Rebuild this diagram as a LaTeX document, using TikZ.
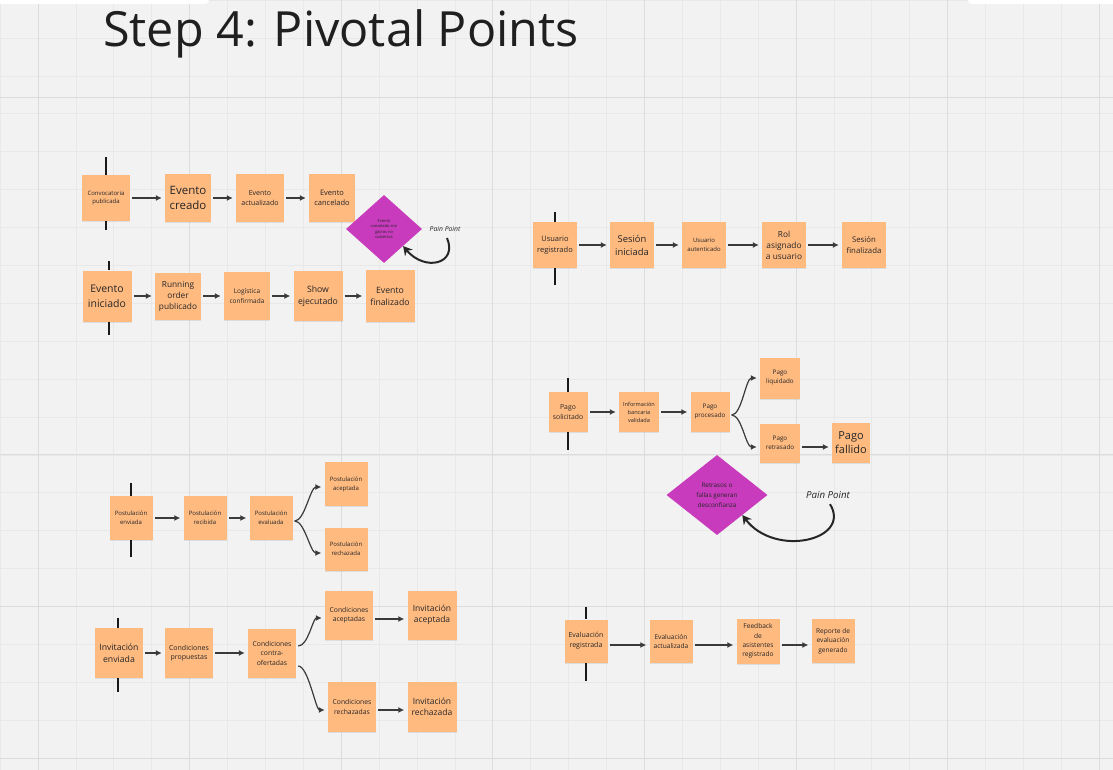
\documentclass[tikz,border=0pt]{standalone}
\usepackage{fontspec}
\setmainfont{Open Sans}
\usetikzlibrary{shapes.geometric,arrows.meta,shadows}
\definecolor{bgc}{HTML}{F2F2F2}
\definecolor{gridc}{HTML}{E8E8E8}
\definecolor{gridm}{HTML}{DCDCDC}
\definecolor{stk}{HTML}{FFBA80}
\definecolor{mag}{HTML}{C83BBD}
\definecolor{txt}{HTML}{262626}
\definecolor{arr}{HTML}{3A3A3A}
\newcommand{\fsz}[2]{\fontsize{#1}{#2}\selectfont}
\begin{document}
\begin{tikzpicture}[x=1pt,y=-1pt,
  note/.style 2 args={fill=stk, draw=none, minimum width=#1, minimum height=#2,
    inner sep=0.5pt, align=center, text=txt,
    drop shadow={shadow xshift=0pt, shadow yshift=-1.2pt, opacity=0.18}},
  pain/.style 2 args={diamond, fill=mag, draw=none, minimum width=#1, minimum height=#2,
    inner sep=0pt, align=center, text=txt},
  flow/.style={draw=arr, line width=1.2pt, -{Latex[length=6pt,width=6pt]},
    shorten <=2pt, shorten >=3pt},
  pivot/.style={draw=black!90, line width=2pt},
  painarrow/.style={draw=black!85, line width=2pt, -{Stealth[length=9pt,width=10pt,inset=3pt]}},
  plabel/.style={text=txt, font=\itshape}
]
\useasboundingbox (0,0) rectangle (1113,770);
\fill[bgc] (0,0) rectangle (1113,770);
% grid
\foreach \i in {0,...,29} { \draw[gridc, line width=0.5pt] ({\i*37.9},0) -- ({\i*37.9},770); }
\foreach \j in {0,...,20} { \draw[gridc, line width=0.5pt] (0,{\j*37.9}) -- (1113,{\j*37.9}); }
\foreach \i in {0,...,7} { \draw[gridm, line width=0.8pt] ({37.9+\i*151.6},0) -- ({37.9+\i*151.6},770); }
\foreach \yy in {97,454.8,606.4,758} { \draw[gridm, line width=0.8pt] (0,\yy) -- (1113,\yy); }
% top white bars
\fill[white, rounded corners=4pt] (-6,-10) rectangle (209,4);
\fill[white, rounded corners=4pt] (968,-10) rectangle (1120,4);
% title
\node[anchor=base west, text=black!88, font=\fsz{48.5}{55}, inner sep=0pt] (title) at (103,47) {Step 4: Pivotal Points};

% ---- Row A
\node[note={48}{46}, font=\fsz{6}{8}] (convo) at (106,198) {Convocatoria\\publicada};
\node[note={46}{48}, font=\fsz{11.5}{15.5}] (ecreado) at (188,198) {Evento\\creado};
\node[note={48}{48}, font=\fsz{7}{9.5}] (eactual) at (260,198) {Evento\\actualizado};
\node[note={46}{48}, font=\fsz{7.5}{10}] (ecancel) at (332,198) {Evento\\cancelado};
\node[pain={76}{68}, font=\fsz{4}{5.5}] (d1) at (384,229) {Evento\\cancelado con\\gastos no\\cubiertos};
\node[plabel, font=\itshape\fsz{6.8}{8}] (pp1) at (445,229) {Pain Point};
\draw[flow] (convo) -- (ecreado);
\draw[flow] (ecreado) -- (eactual);
\draw[flow] (eactual) -- (ecancel);
\draw[painarrow] ([xshift=2pt,yshift=-3pt]pp1.south) .. controls (458,264) and (425,272) .. (d1.south east);

% ---- Row B
\node[note={49}{51}, font=\fsz{10.5}{15}] (einic) at (107,296) {Evento\\iniciado};
\node[note={46}{47}, font=\fsz{8.3}{11}] (running) at (178,296) {Running\\order\\publicado};
\node[note={46}{48}, font=\fsz{6.5}{10}] (logis) at (247,296) {Logística\\confirmada};
\node[note={49}{50}, font=\fsz{8.7}{12}] (show) at (318,296) {Show\\ejecutado};
\node[note={49}{52}, font=\fsz{8.7}{12}] (efinal) at (390,296) {Evento\\finalizado};
\draw[flow] (einic) -- (running);
\draw[flow] (running) -- (logis);
\draw[flow] (logis) -- (show);
\draw[flow] (show) -- (efinal);

% ---- Usuario
\node[note={44}{46}, font=\fsz{7.5}{11}] (ureg) at (555,245) {Usuario\\registrado};
\node[note={44}{46}, font=\fsz{9.4}{13}] (sinic) at (632,245) {Sesión\\iniciada};
\node[note={44}{46}, font=\fsz{6}{9}] (uaut) at (704,245) {Usuario\\autenticado};
\node[note={44}{46}, font=\fsz{8.3}{11}] (rol) at (784,245) {Rol\\asignado\\a usuario};
\node[note={44}{46}, font=\fsz{7.8}{11}] (sfin) at (864,245) {Sesión\\finalizada};
\draw[flow] (ureg) -- (sinic);
\draw[flow] (sinic) -- (uaut);
\draw[flow] (uaut) -- (rol);
\draw[flow] (rol) -- (sfin);

% ---- Pago
\node[note={39}{40}, font=\fsz{6.8}{10}] (psol) at (568,412) {Pago\\solicitado};
\node[note={40}{40}, font=\fsz{5.6}{8}] (pinfo) at (639,412) {Información\\bancaria\\validada};
\node[note={39}{40}, font=\fsz{6.3}{9}] (pproc) at (710,412) {Pago\\procesado};
\node[note={40}{41}, font=\fsz{6.3}{9}] (pliq) at (780,378) {Pago\\liquidado};
\node[note={40}{39}, font=\fsz{6.3}{9}] (pret) at (780,443) {Pago\\retrasado};
\node[note={38}{40}, font=\fsz{11}{14}] (pfall) at (851,443) {Pago\\fallido};
\draw[flow] (psol) -- (pinfo);
\draw[flow] (pinfo) -- (pproc);
\draw[flow] ([yshift=-3pt]pproc.east) .. controls +(12,0) and +(-14,0) .. (pliq.west);
\draw[flow] ([yshift=-3pt]pproc.east) .. controls +(12,0) and +(-14,0) .. ([yshift=-4pt]pret.west);
\draw[flow] ([yshift=-4pt]pret.east) -- ([yshift=-4pt]pfall.west);
\node[pain={101}{80}, font=\fsz{6.3}{10}] (d2) at (717,495) {Retrasos o\\fallas generan\\desconfianza};
\node[plabel, font=\itshape\fsz{9.7}{11}] (pp2) at (828,495) {Pain Point};
\draw[painarrow] ([xshift=2pt,yshift=-2pt]pp2.south) .. controls (852,540) and (775,558) .. (d2.south east);

% ---- Postulacion
\node[note={43}{44}, font=\fsz{6}{9}] (penv) at (131,518) {Postulación\\enviada};
\node[note={43}{44}, font=\fsz{6}{9}] (prec) at (205,518) {Postulación\\recibida};
\node[note={43}{44}, font=\fsz{6}{9}] (peval) at (271,518) {Postulación\\evaluada};
\node[note={43}{44}, font=\fsz{6}{9}] (pacep) at (346,484) {Postulación\\aceptada};
\node[note={43}{43}, font=\fsz{6}{9}] (prech) at (346,549) {Postulación\\rechazada};
\draw[flow] (penv) -- (prec);
\draw[flow] (prec) -- (peval);
\draw[flow] ([yshift=-3pt]peval.east) .. controls +(12,0) and +(-14,0) .. ([yshift=-3pt]pacep.west);
\draw[flow] ([yshift=-3pt]peval.east) .. controls +(12,0) and +(-14,0) .. ([yshift=-4pt]prech.west);

% ---- Invitacion
\node[note={48}{50}, font=\fsz{8.7}{12}] (ienv) at (119,653) {Invitación\\enviada};
\node[note={48}{50}, font=\fsz{7}{9.5}] (cprop) at (189,653) {Condiciones\\propuestas};
\node[note={48}{49}, font=\fsz{6.8}{9.5}] (ccontra) at (272,653) {Condiciones\\contra-\\ofertadas};
\node[note={48}{49}, font=\fsz{6.8}{9.5}] (cacep) at (349,615) {Condiciones\\aceptadas};
\node[note={49}{49}, font=\fsz{8.5}{11.5}] (iacep) at (432,615) {Invitación\\aceptada};
\node[note={48}{50}, font=\fsz{6.8}{9.5}] (crech) at (352,707) {Condiciones\\rechazadas};
\node[note={49}{50}, font=\fsz{8.5}{11.5}] (irech) at (432,707) {Invitación\\rechazada};
\draw[flow] (ienv) -- (cprop);
\draw[flow] (cprop) -- (ccontra);
\draw[flow] ([yshift=7pt]ccontra.east) .. controls +(12,0) and +(-12,0) .. ([yshift=-3pt]cacep.west);
\draw[flow] ([yshift=-13pt]ccontra.east) .. controls +(12,0) and +(-12,0) .. ([yshift=-3pt]crech.west);
\draw[flow] ([yshift=-4pt]cacep.east) -- ([yshift=-4pt]iacep.west);
\draw[flow] ([yshift=-3pt]crech.east) -- ([yshift=-3pt]irech.west);

% ---- Evaluacion
\node[note={43}{43}, font=\fsz{7}{10}] (evreg) at (586,641) {Evaluación\\registrada};
\node[note={43}{43}, font=\fsz{6.6}{9}] (evact) at (671,641) {Evaluación\\actualizada};
\node[note={43}{45}, font=\fsz{6.6}{9.3}] (feed) at (758,641) {Feedback\\de\\asistentes\\registrado};
\node[note={43}{44}, font=\fsz{6.6}{9.5}] (repo) at (833,641) {Reporte de\\evaluación\\generado};
\draw[flow] ([yshift=-4pt]evreg.east) -- ([yshift=-4pt]evact.west);
\draw[flow] ([yshift=-4pt]evact.east) -- ([yshift=-4pt]feed.west);
\draw[flow] ([yshift=-4pt]feed.east) -- ([yshift=-4pt]repo.west);

% ---- pivot markers
\draw[pivot] ([yshift=18pt]convo.north) -- (convo.north);
\draw[pivot] (convo.south) -- ([yshift=-9pt]convo.south);
\draw[pivot] ([xshift=2pt,yshift=9pt]einic.north) -- ([xshift=2pt]einic.north);
\draw[pivot] ([xshift=2pt]einic.south) -- ([xshift=2pt,yshift=-13pt]einic.south);
\draw[pivot] ([yshift=10pt]ureg.north) -- (ureg.north);
\draw[pivot] (ureg.south) -- ([yshift=-17pt]ureg.south);
\draw[pivot] ([yshift=14pt]psol.north) -- (psol.north);
\draw[pivot] (psol.south) -- ([yshift=-18pt]psol.south);
\draw[pivot] ([yshift=13pt]penv.north) -- (penv.north);
\draw[pivot] (penv.south) -- ([yshift=-17pt]penv.south);
\draw[pivot] ([xshift=-1pt,yshift=10pt]ienv.north) -- ([xshift=-1pt]ienv.north);
\draw[pivot] ([xshift=-1pt]ienv.south) -- ([xshift=-1pt,yshift=-14pt]ienv.south);
\draw[pivot] ([yshift=12pt]evreg.north) -- (evreg.north);
\draw[pivot] (evreg.south) -- ([yshift=-18pt]evreg.south);
\end{tikzpicture}
\end{document}
